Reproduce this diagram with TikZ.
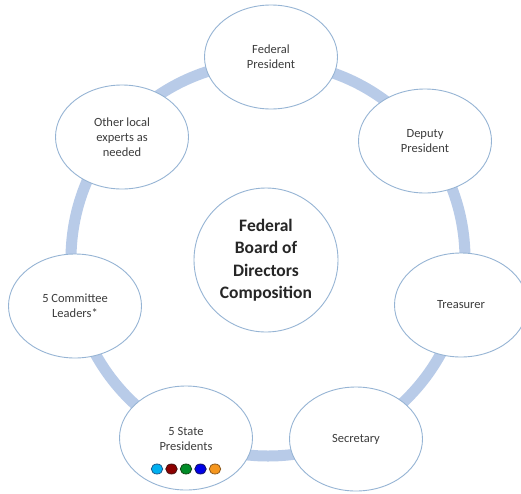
\documentclass[tikz,border=0pt]{standalone}
\usepackage{fontspec}
\setmainfont{Carlito}
\usetikzlibrary{shapes.geometric}
\definecolor{ringblue}{RGB}{184,203,232}
\definecolor{edgeblue}{RGB}{150,180,212}
\definecolor{txtgray}{RGB}{60,60,60}
\begin{document}
\begin{tikzpicture}[x=1pt,y=-1pt,
  member/.style={ellipse, draw=edgeblue, line width=0.9pt, fill=white,
    minimum width=133pt, minimum height=104pt, inner sep=0pt,
    align=center, text=txtgray, font=\fontsize{12.5}{15}\selectfont},
  hub/.style={circle, draw=edgeblue, line width=0.9pt, fill=white,
    minimum size=144pt, inner sep=0pt, align=center,
    font=\fontsize{17.5}{22.5}\selectfont\bfseries, text=black!85},
  ring/.style={draw=ringblue, line width=11pt},
  dot/.style={ellipse, minimum width=11.5pt, minimum height=10pt, inner sep=0pt, line width=0.8pt}]
\useasboundingbox (0,0) rectangle (521,493);
\fill[white] (0,0) rectangle (521,493);
\coordinate (rc) at (268,259);
\draw[ring] (rc) circle[radius=197];
\node[member] (fp) at (271,57) {Federal\\President};
\node[member] (dp) at (425,141) {Deputy\\President};
\node[member] (tr) at (461,305) {Treasurer};
\node[member] (se) at (356,439) {Secretary};
\node[member] (sp) at (186,438) {};
\node[member] (cl) at (75,306) {5 Committee\\Leaders*};
\node[member] (ol) at (122,137) {Other local\\experts as\\needed};
\node[txtgray, align=center, font=\fontsize{12.5}{15}\selectfont] (spt) at (186,439) {5 State\\Presidents};
\node[dot, fill={rgb,255:red,0;green,176;blue,240}, draw={rgb,255:red,30;green,90;blue,140}] (d1) at (157,469) {};
\node[dot, fill={rgb,255:red,140;green,0;blue,0}, draw={rgb,255:red,70;green,20;blue,20}] (d2) at (171.5,469) {};
\node[dot, fill={rgb,255:red,0;green,140;blue,40}, draw={rgb,255:red,20;green,70;blue,20}] (d3) at (186,469) {};
\node[dot, fill={rgb,255:red,0;green,0;blue,230}, draw={rgb,255:red,20;green,20;blue,100}] (d4) at (200.5,469) {};
\node[dot, fill={rgb,255:red,245;green,150;blue,30}, draw={rgb,255:red,140;green,90;blue,30}] (d5) at (215,469) {};
\node[hub] (hub) at (266,260) {Federal\\Board of\\Directors\\Composition};
\end{tikzpicture}
\end{document}
